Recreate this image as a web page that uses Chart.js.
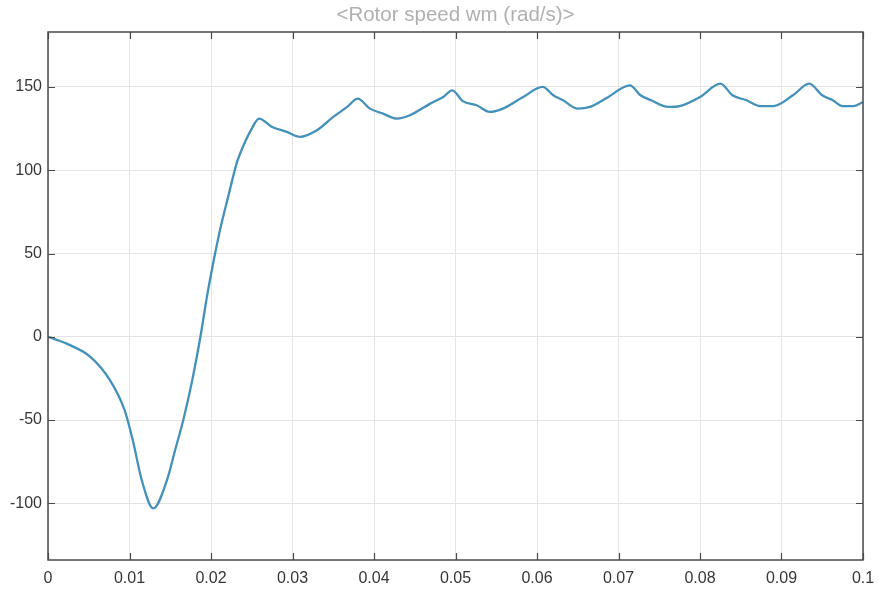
<!DOCTYPE html>
<html>
<head>
<meta charset="utf-8">
<script src="https://cdn.jsdelivr.net/npm/chart.js@4.4.1/dist/chart.umd.min.js"></script>
<style>
  html, body { margin: 0; padding: 0; background: #fff; }
  #wrap { width: 879px; height: 591px; position: relative; }
</style>
</head>
<body>
<div id="wrap"><canvas id="chart"></canvas></div>
<script>
"use strict";

/* ---- data ---- */
const chartTitle = "<Rotor speed wm (rad/s)>";
const timeS = [0, 0.0027, 0.0052, 0.0076, 0.0094, 0.0104, 0.0115, 0.0129, 0.0146, 0.0156,
  0.0166, 0.0177, 0.0187, 0.0195, 0.0201, 0.0211, 0.0221, 0.0232, 0.0240, 0.0250,
  0.0259, 0.0275, 0.0293, 0.0309, 0.0330, 0.0350, 0.0367, 0.0380, 0.0395, 0.0411,
  0.0428, 0.0444, 0.0469, 0.0485, 0.0496, 0.0509, 0.0526, 0.0542, 0.0558, 0.0583,
  0.0607, 0.0620, 0.0632, 0.0650, 0.0665, 0.0686, 0.0714, 0.0727, 0.0740, 0.0761,
  0.0775, 0.0800, 0.0825, 0.0840, 0.0857, 0.0874, 0.0890, 0.0914, 0.0934, 0.0950,
  0.0963, 0.0975, 0.0988, 0.1];
const speed = [0, -5, -12, -26, -44, -62, -86, -103, -86, -68,
  -50, -26, 0, 24, 40, 64, 84, 105, 115, 125,
  131, 126, 123, 120, 124, 132, 138, 143, 137, 134,
  131, 133, 140, 144, 148, 141.5, 139, 135, 137, 144,
  150, 145, 142, 137, 138, 143.5, 151, 145, 142, 138,
  138.5, 144, 152, 145, 142, 138.5, 138.5, 145, 152, 145,
  142, 138.5, 138.5, 141];
const xTicks = [0, 0.01, 0.02, 0.03, 0.04, 0.05, 0.06, 0.07, 0.08, 0.09, 0.1];
const xTickLabels = ["0", "0.01", "0.02", "0.03", "0.04", "0.05", "0.06", "0.07", "0.08", "0.09", "0.1"];
const yTicks = [-100, -50, 0, 50, 100, 150];
const yRange = [-134, 183];

const FONT = "'Liberation Sans', Arial, sans-serif";

/* ---- MATLAB-style box with inward ticks + title ---- */
const boxPlugin = {
  id: "box",
  afterDraw(chart) {
    const { ctx, chartArea: a, scales: { x, y } } = chart;
    ctx.save();
    ctx.strokeStyle = "#4a4a4a";
    ctx.lineWidth = 1.5;
    ctx.strokeRect(a.left, a.top, a.right - a.left, a.bottom - a.top);
    ctx.lineWidth = 1.2;
    ctx.beginPath();
    xTicks.forEach(t => {
      const px = Math.round(x.getPixelForValue(t)) + 0.5;
      ctx.moveTo(px, a.bottom); ctx.lineTo(px, a.bottom - 7);
      ctx.moveTo(px, a.top); ctx.lineTo(px, a.top + 7);
    });
    yTicks.forEach(v => {
      const py = Math.round(y.getPixelForValue(v)) + 0.5;
      ctx.moveTo(a.left, py); ctx.lineTo(a.left + 7, py);
      ctx.moveTo(a.right, py); ctx.lineTo(a.right - 7, py);
    });
    ctx.stroke();
    ctx.fillStyle = "#b0b0b0";
    ctx.font = "20.5px " + FONT;
    ctx.textAlign = "center";
    ctx.textBaseline = "middle";
    ctx.fillText(chartTitle, (a.left + a.right) / 2, 15);
    ctx.restore();
  },
};

new Chart(document.getElementById("chart"), {
  type: "line",
  data: {
    datasets: [{
      data: timeS.map((t, i) => ({ x: t, y: speed[i] })),
      borderColor: "#4390bb",
      borderWidth: 2.3,
      pointRadius: 0,
      cubicInterpolationMode: "monotone",
      fill: false,
    }],
  },
  options: {
    responsive: true,
    maintainAspectRatio: false,
    animation: false,
    layout: { padding: { top: 32, right: 16, left: 0, bottom: 0 } },
    plugins: { legend: { display: false }, tooltip: { enabled: false } },
    scales: {
      x: {
        type: "linear",
        min: 0, max: 0.1,
        afterBuildTicks: s => { s.ticks = xTicks.map(v => ({ value: v })); },
        afterFit: s => { s.height = 31; s.paddingLeft = 0; s.paddingRight = 0; },
        grid: { color: "#e4e4e4", drawTicks: false },
        border: { display: false },
        ticks: {
          padding: 9,
          color: "#363636",
          font: { family: FONT, size: 16 },
          maxRotation: 0,
          autoSkip: false,
          callback: (v, i) => xTickLabels[i],
        },
      },
      y: {
        type: "linear",
        min: yRange[0], max: yRange[1],
        afterBuildTicks: s => { s.ticks = yTicks.map(v => ({ value: v })); },
        afterFit: s => { s.width = 48; },
        grid: { color: "#e4e4e4", drawTicks: false },
        border: { display: false },
        ticks: {
          padding: 6,
          color: "#363636",
          font: { family: FONT, size: 16 },
        },
      },
    },
  },
  plugins: [boxPlugin],
});
</script>
</body>
</html>
